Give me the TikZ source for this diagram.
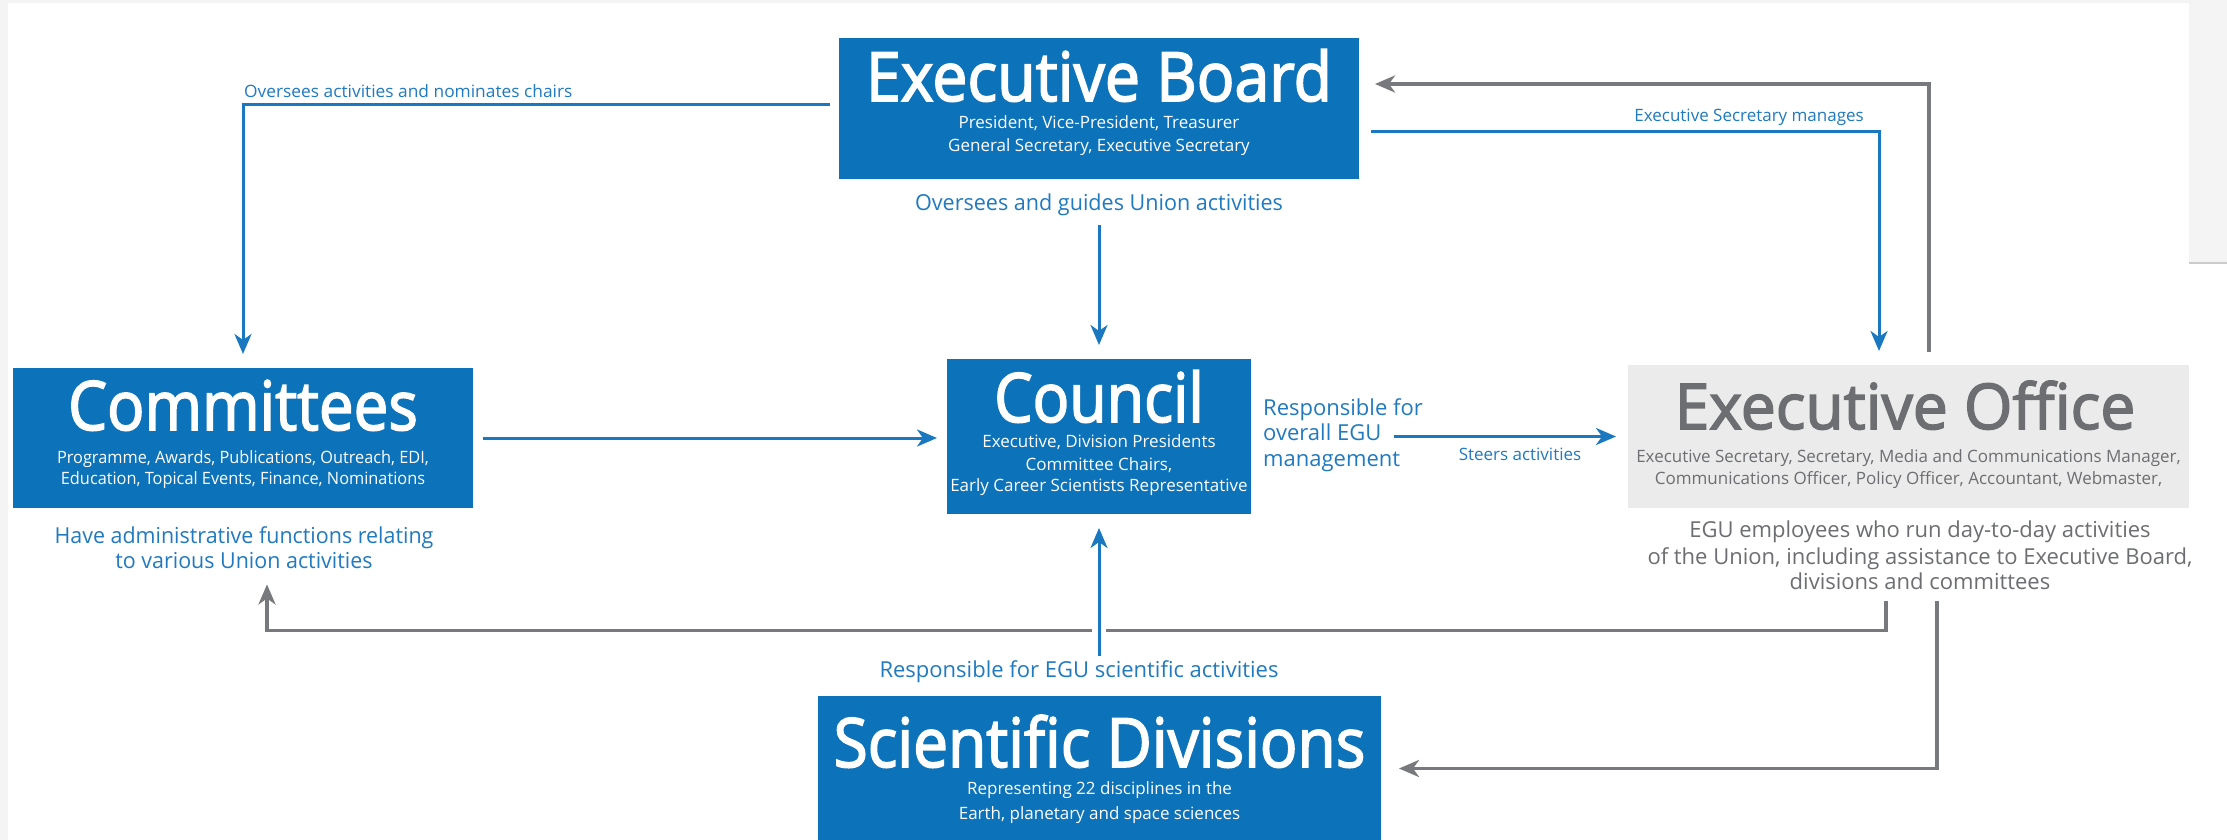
\documentclass[tikz,border=0pt]{standalone}
\usepackage{fontspec}
\setmainfont{Open Sans}
\newfontfamily\osb{Open Sans}[FakeBold=2.5]
\usetikzlibrary{arrows.meta}
\definecolor{egublue}{RGB}{12,114,185}
\definecolor{lineblue}{RGB}{26,120,192}
\definecolor{txtblue}{RGB}{32,122,192}
\definecolor{eofill}{RGB}{235,235,235}
\definecolor{eotext}{RGB}{109,110,113}
\definecolor{grayline}{RGB}{120,121,124}
\definecolor{bgstrip}{RGB}{244,244,244}
\newcommand{\fsz}[1]{\fontsize{#1}{#1}\selectfont}
\newcommand{\hsc}[2]{\scalebox{#1}[1]{#2}}
\tikzset{
  boxbase/.style={rectangle, inner sep=0pt, outer sep=0pt},
  bluebox/.style={boxbase, fill=egublue},
  graybox/.style={boxbase, fill=eofill},
  ttl/.style={anchor=base, inner sep=0pt, text=white, font=\osb\fsz{68}},
  subw/.style={anchor=base, inner sep=0pt, text=white, font=\fsz{17}},
  desc/.style={anchor=base, inner sep=0pt, text=txtblue, font=\fsz{22}},
  lbl/.style={anchor=base, inner sep=0pt, text=txtblue, font=\fsz{17}},
  bl/.style={draw=lineblue, line width=3pt},
  blarrow/.style={bl, -{Stealth[length=20pt,width=17pt,inset=6pt]}},
  grline/.style={draw=grayline, line width=3.5pt},
  grarrow/.style={grline, -{Stealth[length=20pt,width=17pt,inset=6pt]}}
}
\begin{document}
\begin{tikzpicture}[x=1pt,y=-1pt]
\useasboundingbox (0,0) rectangle (2227,840);
\fill[white] (0,0) rectangle (2227,840);
\fill[bgstrip] (0,0) rectangle (8,840);
\fill[bgstrip] (0,0) rectangle (2227,3);
\fill[bgstrip] (2189,0) rectangle (2227,263);
\draw[gray!40, line width=2pt] (2189,263) -- (2227,263);

% boxes
\node[bluebox, minimum width=520pt, minimum height=141pt] (eb) at (1099,108.5) {};
\node[bluebox, minimum width=460pt, minimum height=140pt] (com) at (243,438) {};
\node[bluebox, minimum width=304pt, minimum height=155pt] (cou) at (1099,436.5) {};
\node[graybox, minimum width=561pt, minimum height=143pt] (eo) at (1908.5,436.5) {};
\node[bluebox, minimum width=563pt, minimum height=150pt] (sd) at (1099.5,771) {};

% titles
\node[ttl] (ebt) at (1099,101) {\hsc{0.92}{Executive Board}};
\node[ttl] (comt) at (243,430) {\hsc{0.91}{Committees}};
\node[ttl] (cout) at (1099,422) {\hsc{0.895}{Council}};
\node[ttl, text=eotext, font=\osb\fsz{63}] (eot) at (1905,429) {\hsc{0.99}{Executive Office}};
\node[ttl] (sdt) at (1099.5,767) {\hsc{0.915}{Scientific Divisions}};

% subtitles
\node[subw] (ebs1) at (1099,129) {President, Vice-President, Treasurer};
\node[subw] (ebs2) at (1099,152) {General Secretary, Executive Secretary};
\node[subw] (coms1) at (243,463) {\hsc{0.96}{Programme, Awards, Publications, Outreach, EDI,}};
\node[subw] (coms2) at (243,484) {\hsc{0.96}{Education, Topical Events, Finance, Nominations}};
\node[subw] (cous1) at (1099,447) {Executive, Division Presidents};
\node[subw] (cous2) at (1099,470) {Committee Chairs,};
\node[subw] (cous3) at (1099,491) {Early Career Scientists Representative};
\node[subw, text=eotext] (eos1) at (1908.5,462) {Executive Secretary, Secretary, Media and Communications Manager,};
\node[subw, text=eotext] (eos2) at (1908.5,484) {Communications Officer, Policy Officer, Accountant, Webmaster,};
\node[subw] (sds1) at (1099.5,794) {Representing 22 disciplines in the};
\node[subw] (sds2) at (1099.5,819) {Earth, planetary and space sciences};

% descriptions
\node[desc] (ebd) at (1099,210) {\hsc{0.98}{Oversees and guides Union activities}};
\node[desc] (comd1) at (244,543) {\hsc{0.975}{Have administrative functions relating}};
\node[desc] (comd2) at (244,568) {\hsc{0.975}{to various Union activities}};
\node[desc, anchor=base west] (res1) at (1263,415) {Responsible for};
\node[desc, anchor=base west] (res2) at (1263,440) {overall EGU};
\node[desc, anchor=base west] (res3) at (1263,466) {management};
\node[desc, text=eotext] (eod1) at (1920,537) {EGU employees who run day-to-day activities};
\node[desc, text=eotext] (eod2) at (1920,564) {of the Union, including assistance to Executive Board,};
\node[desc, text=eotext] (eod3) at (1920,589) {divisions and committees};
\node[desc] (sdd) at (1079,677) {Responsible for EGU scientific activities};

% small labels
\node[lbl, anchor=base west] (l1) at (244,98) {\hsc{1.02}{Oversees activities and nominates chairs}};
\node[lbl, anchor=base east] (l2) at (1864,122) {Executive Secretary manages};
\node[lbl] (l3) at (1520,460) {Steers activities};

% connectors
\draw[blarrow, shorten >=14pt] ([xshift=-9pt,yshift=3.5pt]eb.west) -| (com.north);
\draw[blarrow, shorten <=10pt, shorten >=10pt] (com.east) -- (com.east -| cou.west);
\draw[blarrow, shorten <=10pt, shorten >=14pt] (ebd.south) -- (cou.north);
\draw[blarrow, shorten >=14pt] ([xshift=12pt,yshift=-23.5pt]eb.east) -| ([xshift=-29.5pt]eo.north);
\draw[grarrow, shorten <=13pt, shorten >=16pt] ([xshift=20.5pt]eo.north) |- ([yshift=24.5pt]eb.east);
\draw[blarrow, shorten <=12pt, shorten >=12pt] (res2.east |- cou.east) -- (eo.west);
\draw[grarrow, shorten <=12pt, shorten >=16pt] ([xshift=-22.5pt]eo.south |- eod3.south) -- ++(0,41) -| ([xshift=24pt]com.south |- comd2.south);
\draw[grarrow, shorten <=12pt, shorten >=18pt] ([xshift=28.5pt]eo.south |- eod3.south) |- ([yshift=2.5pt]sd.east);
\draw[blarrow, shorten <=4pt, shorten >=14pt, preaction={draw=white, line width=14pt, -}] (sdd.north -| cou.south) -- (cou.south);
\end{tikzpicture}
\end{document}
